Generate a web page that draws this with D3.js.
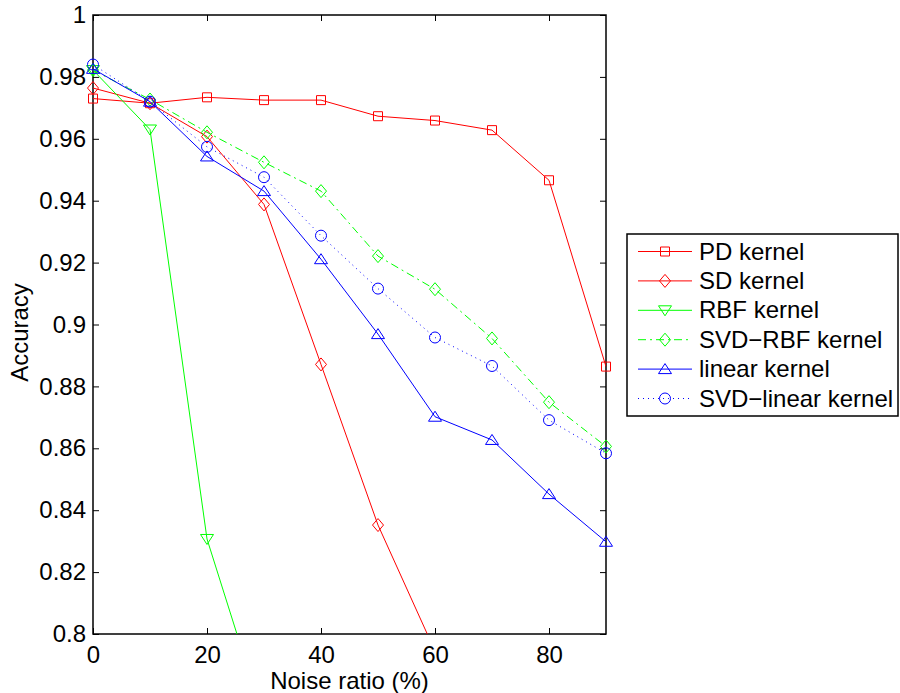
<!DOCTYPE html>
<html>
<head>
<meta charset="utf-8">
<script src="https://cdn.jsdelivr.net/npm/d3@7"></script>
<style>
  body { margin: 0; background: #fff; }
  text { font-family: "Liberation Sans", Arial, Helvetica, sans-serif; fill: #000; }
</style>
</head>
<body>
<div id="chart"></div>
<script>
// noise ratio (%) on x, accuracy on y
var noise = [0, 10, 20, 30, 40, 50, 60, 70, 80, 90];
var pdKernel = [0.9730, 0.9715, 0.9734, 0.9725, 0.9725, 0.9673, 0.9659, 0.9628, 0.9466, 0.8864];
var sdKernel = [0.9764, 0.9715, 0.9607, 0.9388, 0.8871, 0.8352, 0.7945, null, null, null];
var rbfKernel = [0.9822, 0.9630, 0.8307, 0.7723, null, null, null, null, null, null];
var svdRbfKernel = [0.9822, 0.9727, 0.9621, 0.9524, 0.9431, 0.9221, 0.9114, 0.8955, 0.8749, 0.8606];
var linearKernel = [0.9826, 0.9720, 0.9543, 0.9431, 0.9211, 0.8969, 0.8702, 0.8627, 0.8452, 0.8298];
var svdLinearKernel = [0.9840, 0.9720, 0.9574, 0.9476, 0.9287, 0.9116, 0.8958, 0.8866, 0.8691, 0.8584];

var xTicks = [0, 20, 40, 60, 80];
var yTicks = [0.8, 0.82, 0.84, 0.86, 0.88, 0.9, 0.92, 0.94, 0.96, 0.98, 1];

var series = [
  {name: "PD kernel", values: pdKernel, color: "#ff0000", dash: null, marker: "square"},
  {name: "SD kernel", values: sdKernel, color: "#ff0000", dash: null, marker: "diamond"},
  {name: "RBF kernel", values: rbfKernel, color: "#00ff00", dash: null, marker: "down"},
  {name: "SVD\u2212RBF kernel", values: svdRbfKernel, color: "#00ff00", dash: "8,4,2,4", marker: "diamond"},
  {name: "linear kernel", values: linearKernel, color: "#0000ff", dash: null, marker: "up"},
  {name: "SVD\u2212linear kernel", values: svdLinearKernel, color: "#0000ff", dash: "1,4", marker: "circle"}
];

var W = 900, H = 693;
var margin = {left: 93, top: 15, right: 294, bottom: 59};
var pw = W - margin.left - margin.right;
var ph = H - margin.top - margin.bottom;
var fontSize = "24px";

var svg = d3.select("#chart").append("svg")
    .attr("width", W)
    .attr("height", H);

var x = d3.scaleLinear().domain([0, 90]).range([0, pw]);
var y = d3.scaleLinear().domain([0.8, 1]).range([ph, 0]);

var g = svg.append("g").attr("transform", "translate(" + margin.left + "," + margin.top + ")");

g.append("clipPath").attr("id", "clip")
  .append("rect").attr("width", pw).attr("height", ph);

// axes with inward ticks, mirrored on top and right
var fmt = function(d){ return d3.format("")(+d.toFixed(2)); };
var xAxis = d3.axisBottom(x).tickValues(xTicks).tickSize(-6).tickPadding(12).tickFormat(fmt);
var yAxis = d3.axisLeft(y).tickValues(yTicks).tickSize(-6).tickPadding(7).tickFormat(fmt);

g.append("g").attr("transform", "translate(0," + ph + ")").call(xAxis);
g.append("g").call(yAxis);
g.append("g").call(d3.axisTop(x).tickValues(xTicks).tickSize(-6).tickFormat(""));
g.append("g").attr("transform", "translate(" + pw + ",0)")
  .call(d3.axisRight(y).tickValues(yTicks).tickSize(-6).tickFormat(""));

g.selectAll(".domain").remove();
g.selectAll(".tick line").attr("stroke", "#000").attr("stroke-width", 1);
g.selectAll(".tick text").style("font-size", fontSize);

g.append("rect")
  .attr("width", pw).attr("height", ph)
  .attr("fill", "none").attr("stroke", "#000").attr("stroke-width", 1.5);

// axis titles
svg.append("text")
  .attr("x", margin.left + pw / 2)
  .attr("y", 689)
  .attr("text-anchor", "middle")
  .style("font-size", fontSize)
  .text("Noise ratio (%)");

svg.append("text")
  .attr("transform", "translate(28," + (margin.top + ph / 2 + 8) + ") rotate(-90)")
  .attr("text-anchor", "middle")
  .style("font-size", fontSize)
  .text("Accuracy");

function drawMarker(sel, type, color) {
  if (type === "circle") {
    sel.append("circle").attr("r", 5.5);
  } else {
    var p;
    if (type === "square") p = "M-4.5,-4.5L4.5,-4.5L4.5,4.5L-4.5,4.5Z";
    if (type === "diamond") p = "M0,-6.5L5.5,0L0,6.5L-5.5,0Z";
    if (type === "up") p = "M0,-5.5L6.5,4.5L-6.5,4.5Z";
    if (type === "down") p = "M0,5.5L6.5,-4.5L-6.5,-4.5Z";
    sel.append("path").attr("d", p);
  }
  sel.selectAll("*").attr("fill", "none").attr("stroke", color).attr("stroke-width", 1);
}

var line = d3.line()
  .defined(function(d){ return d.v !== null; })
  .x(function(d){ return x(d.n); })
  .y(function(d){ return y(d.v); });

series.forEach(function(s){
  var pts = noise.map(function(n, i){ return {n: n, v: s.values[i]}; });
  g.append("path")
    .datum(pts)
    .attr("clip-path", "url(#clip)")
    .attr("fill", "none")
    .attr("stroke", s.color)
    .attr("stroke-width", 1)
    .attr("stroke-dasharray", s.dash)
    .attr("d", line);

  pts.filter(function(d){ return d.v !== null && d.v >= 0.8; }).forEach(function(d){
    var m = g.append("g").attr("transform", "translate(" + x(d.n) + "," + y(d.v) + ")");
    drawMarker(m, s.marker, s.color);
  });
});

// legend
var lg = svg.append("g").attr("transform", "translate(627,234)");
lg.append("rect")
  .attr("width", 271).attr("height", 182)
  .attr("fill", "#fff").attr("stroke", "#000").attr("stroke-width", 1.5);

series.forEach(function(s, i){
  var yy = 17.5 + i * 29.4;
  lg.append("line")
    .attr("x1", 11).attr("x2", 65).attr("y1", yy).attr("y2", yy)
    .attr("stroke", s.color).attr("stroke-width", 1)
    .attr("stroke-dasharray", s.dash);
  var m = lg.append("g").attr("transform", "translate(38," + yy + ")");
  drawMarker(m, s.marker, s.color);
  lg.append("text")
    .attr("x", 72).attr("y", yy + 8)
    .style("font-size", fontSize)
    .text(s.name);
});
</script>
</body>
</html>
